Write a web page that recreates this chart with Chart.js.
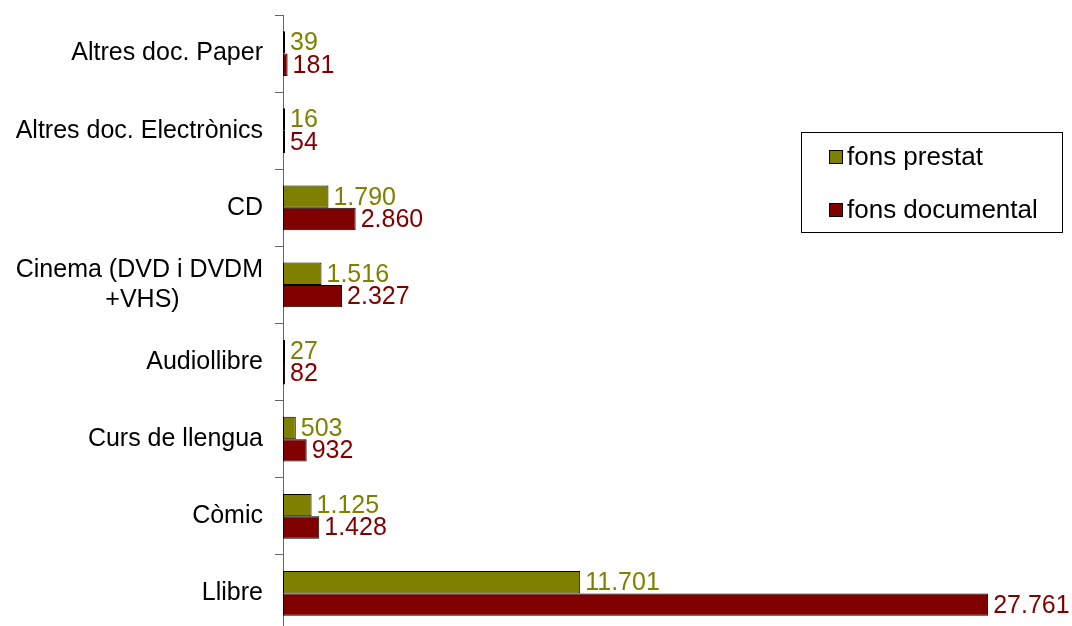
<!DOCTYPE html>
<html>
<head>
<meta charset="utf-8">
<script src="https://cdn.jsdelivr.net/npm/chart.js@4"></script>
<style>
  html, body { margin: 0; padding: 0; background: #fff; overflow: hidden; }
  #wrap { width: 1072px; height: 632px; }
</style>
</head>
<body>
<div id="wrap"><canvas id="c" width="1072" height="632"></canvas></div>
<script>
// ---- data ----
const categories = [
  "Altres doc. Paper",
  "Altres doc. Electrònics",
  "CD",
  ["Cinema (DVD i DVDM", "+VHS)\u00A0\u00A0\u00A0\u00A0\u00A0\u00A0\u00A0\u00A0\u00A0\u00A0\u00A0\u00A0"],
  "Audiollibre",
  "Curs de llengua",
  "Còmic",
  "Llibre"
];
const seriesNames = ["fons prestat", "fons documental"];
const fonsPrestat = [39, 16, 1790, 1516, 27, 503, 1125, 11701];
const fonsDocumental = [181, 54, 2860, 2327, 82, 932, 1428, 27761];
const seriesColors = ["#808000", "#800000"];
const xMax = 30000;

const FONT = '"Liberation Sans", Arial, sans-serif';

function fmt(v) {
  return String(v).replace(/\B(?=(\d{3})+(?!\d))/g, ".");
}

const valueLabels = {
  id: 'valueLabels',
  afterDatasetsDraw(chart) {
    const ctx = chart.ctx;
    ctx.save();
    ctx.font = '25px ' + FONT;
    ctx.textAlign = 'left';
    ctx.textBaseline = 'middle';
    chart.data.datasets.forEach((ds, di) => {
      const meta = chart.getDatasetMeta(di);
      meta.data.forEach((el, i) => {
        ctx.fillStyle = ds.backgroundColor;
        ctx.fillText(fmt(ds.data[i]), el.x + 5, el.y + 1);
      });
    });
    ctx.restore();
  }
};

const boxLegend = {
  id: 'boxLegend',
  afterDraw(chart) {
    const ctx = chart.ctx;
    ctx.save();
    ctx.strokeStyle = '#000';
    ctx.lineWidth = 1;
    ctx.strokeRect(801.5, 132.5, 261, 100);
    ctx.font = '26px ' + FONT;
    ctx.textAlign = 'left';
    ctx.textBaseline = 'middle';
    chart.data.datasets.forEach((ds, i) => {
      const cy = 157 + i * 53;
      ctx.fillStyle = ds.backgroundColor;
      ctx.fillRect(829, cy - 7, 14, 14);
      ctx.strokeStyle = '#000';
      ctx.strokeRect(829.5, cy - 6.5, 13, 13);
      ctx.fillStyle = '#000';
      ctx.fillText(ds.label, 847, cy + 1);
    });
    ctx.restore();
  }
};

new Chart(document.getElementById('c'), {
  type: 'bar',
  data: {
    labels: categories,
    datasets: [
      { label: seriesNames[0], data: fonsPrestat, backgroundColor: seriesColors[0], borderColor: '#000', borderWidth: 1, borderSkipped: false, minBarLength: 2 },
      { label: seriesNames[1], data: fonsDocumental, backgroundColor: seriesColors[1], borderColor: '#000', borderWidth: 1, borderSkipped: false, minBarLength: 2 }
    ]
  },
  options: {
    indexAxis: 'y',
    responsive: false,
    animation: false,
    devicePixelRatio: 1,
    categoryPercentage: 0.58,
    barPercentage: 1,
    layout: { padding: { top: 15, right: 27, bottom: 0, left: 0 } },
    plugins: { legend: { display: false }, tooltip: { enabled: false } },
    scales: {
      x: { display: false, min: 0, max: xMax },
      y: {
        afterFit(scale) { scale.width = 283; scale.paddingTop = 0; scale.paddingBottom = 0; },
        border: { display: true, color: '#666', width: 1 },
        grid: { drawOnChartArea: false, offset: true, tickLength: 8, color: '#666' },
        ticks: { color: '#000', padding: 12, font: { family: FONT, size: 25 } }
      }
    }
  },
  plugins: [valueLabels, boxLegend]
});
</script>
</body>
</html>
